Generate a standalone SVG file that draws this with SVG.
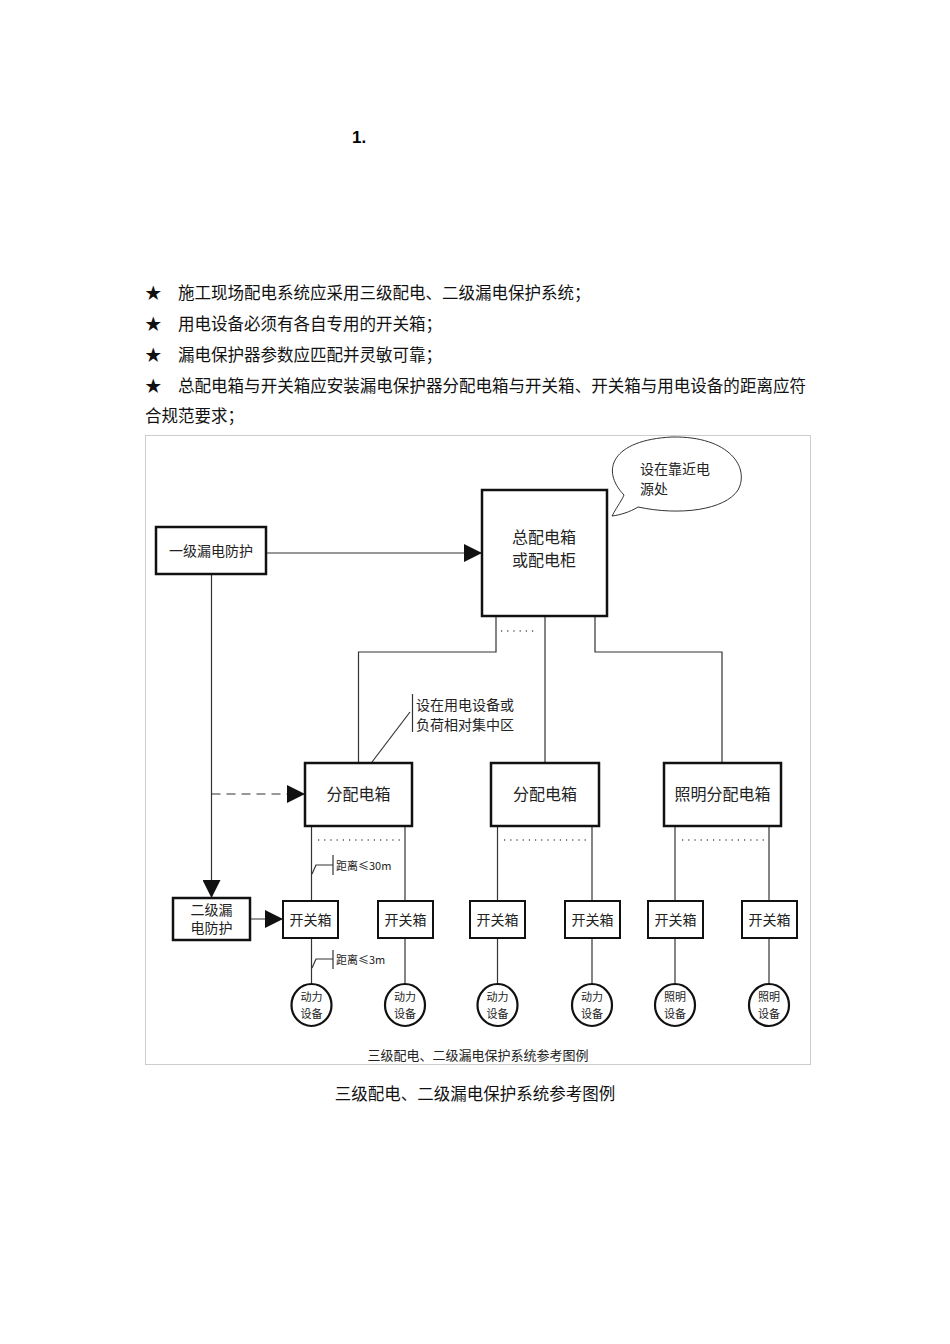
<svg xmlns="http://www.w3.org/2000/svg" width="950" height="1344" viewBox="0 0 950 1344">
<style>
.t{font-family:"Liberation Serif","Noto Sans CJK SC",serif;font-size:16.5px;fill:#111}
.d{font-family:"Noto Sans CJK SC",sans-serif;fill:#222}
.b{fill:#fff;stroke:#111;stroke-width:2.5}
.sb{fill:#fff;stroke:#111;stroke-width:2}
.l{fill:none;stroke:#333;stroke-width:1.2}
.c{fill:#fff;stroke:#111;stroke-width:2.2}
</style>
<defs>
<marker id="ah" viewBox="0 0 10 10" refX="10" refY="5" markerWidth="10" markerHeight="10" markerUnits="userSpaceOnUse" orient="auto"><path d="M0,0 L10,5 L0,10 z" fill="#111"/></marker>
<marker id="ahb" viewBox="0 0 10 10" refX="10" refY="5" markerWidth="18" markerHeight="18" markerUnits="userSpaceOnUse" orient="auto"><path d="M0,0 L10,5 L0,10 z" fill="#111"/></marker>
</defs>
<rect width="950" height="1344" fill="#fff"/>
<text x="352" y="143" style="font-family:'Liberation Sans',sans-serif;font-weight:bold;font-size:17px">1.</text>
<g class="t">
<text x="145" y="299">★</text><text x="178" y="299">施工现场配电系统应采用三级配电、二级漏电保护系统；</text>
<text x="145" y="330">★</text><text x="178" y="330">用电设备必须有各自专用的开关箱；</text>
<text x="145" y="361">★</text><text x="178" y="361">漏电保护器参数应匹配并灵敏可靠；</text>
<text x="145" y="392">★</text><text x="178" y="392" textLength="628" lengthAdjust="spacingAndGlyphs">总配电箱与开关箱应安装漏电保护器分配电箱与开关箱、开关箱与用电设备的距离应符</text>
<text x="145" y="422">合规范要求；</text>
<text x="475" y="1100" text-anchor="middle">三级配电、二级漏电保护系统参考图例</text>
</g>
<rect x="145.5" y="435.5" width="665" height="629" fill="none" stroke="#ccc" stroke-width="1"/>
<g id="connectors">
<line class="l" x1="267" y1="553" x2="482" y2="553" marker-end="url(#ahb)"/>
<line class="l" x1="211.5" y1="575" x2="211.5" y2="898" marker-end="url(#ahb)"/>
<line class="l" x1="211.5" y1="794" x2="305" y2="794" stroke-dasharray="9,6" marker-end="url(#ahb)"/>
<line class="l" x1="250" y1="919" x2="283" y2="919" marker-end="url(#ahb)"/>
<polyline class="l" points="496,616 496,652 358.5,652 358.5,763"/>
<line class="l" x1="545" y1="616" x2="545" y2="763"/>
<polyline class="l" points="595,616 595,652 722,652 722,763"/>
<line x1="501" y1="631" x2="536" y2="631" stroke="#555" stroke-width="1.5" stroke-dasharray="1.2,5"/>
<line class="l" x1="372" y1="762" x2="410" y2="712"/>
<line class="l" x1="412.5" y1="694" x2="412.5" y2="732"/>
<g class="l">
<line x1="311.5" y1="826" x2="311.5" y2="901"/><line x1="405" y1="826" x2="405" y2="901"/>
<line x1="497.5" y1="826" x2="497.5" y2="901"/><line x1="592" y1="826" x2="592" y2="901"/>
<line x1="675" y1="826" x2="675" y2="901"/><line x1="769" y1="826" x2="769" y2="901"/>
<line x1="311.5" y1="938" x2="311.5" y2="984"/><line x1="405" y1="938" x2="405" y2="984"/>
<line x1="497.5" y1="938" x2="497.5" y2="984"/><line x1="592" y1="938" x2="592" y2="984"/>
<line x1="675" y1="938" x2="675" y2="984"/><line x1="769" y1="938" x2="769" y2="984"/>
<polyline points="312,874 316,865 333,865"/><line x1="333" y1="855" x2="333" y2="875"/>
<polyline points="312,968 316,959 333,959"/><line x1="333" y1="950" x2="333" y2="969"/>
</g>
<g stroke="#555" stroke-width="1.5" stroke-dasharray="1.2,5">
<line x1="318" y1="840" x2="400" y2="840"/><line x1="504" y1="840" x2="588" y2="840"/><line x1="682" y1="840" x2="764" y2="840"/>
</g>
</g>
<g id="n1"><rect class="b" x="156" y="527" width="110" height="47"/><text class="d" x="211" y="556" font-size="14" text-anchor="middle">一级漏电防护</text></g>
<g id="main"><rect class="b" x="482" y="490" width="125" height="126"/><text class="d" x="544" y="543" font-size="16" text-anchor="middle">总配电箱</text><text class="d" x="544" y="566" font-size="16" text-anchor="middle">或配电柜</text></g>
<g id="bubble"><path d="M612,516 C618,505 622,500 624,495 C600,470 612,440 672,437 C730,436 750,468 738,490 C725,510 680,516 638,507 C630,512 620,515 612,516 Z" fill="#fff" stroke="#333" stroke-width="1"/><text class="d" x="640" y="474" font-size="14">设在靠近电</text><text class="d" x="640" y="494" font-size="14">源处</text></g>
<g id="note"><text class="d" x="416" y="710" font-size="14">设在用电设备或</text><text class="d" x="416" y="730" font-size="14">负荷相对集中区</text></g>
<g id="f1"><rect class="b" x="305" y="763" width="107" height="63"/><text class="d" x="358.5" y="800" font-size="16" text-anchor="middle">分配电箱</text></g>
<g id="f2"><rect class="b" x="491" y="763" width="108" height="63"/><text class="d" x="545" y="800" font-size="16" text-anchor="middle">分配电箱</text></g>
<g id="f3"><rect class="b" x="664" y="763" width="117" height="63"/><text class="d" x="722.5" y="800" font-size="16" text-anchor="middle">照明分配电箱</text></g>
<g id="n2"><rect class="b" x="173" y="898" width="77" height="42"/><text class="d" x="211.5" y="915" font-size="14" text-anchor="middle">二级漏</text><text class="d" x="211.5" y="933" font-size="14" text-anchor="middle">电防护</text></g>
<g class="d" font-size="11"><text x="336" y="870">距离≤30m</text><text x="336" y="964">距离≤3m</text></g>
<g id="k1"><rect class="sb" x="283" y="901" width="55" height="37"/><text class="d" x="310.5" y="925" font-size="14" text-anchor="middle">开关箱</text></g>
<g id="k2"><rect class="sb" x="378" y="901" width="55" height="37"/><text class="d" x="405.5" y="925" font-size="14" text-anchor="middle">开关箱</text></g>
<g id="k3"><rect class="sb" x="470" y="901" width="55" height="37"/><text class="d" x="497.5" y="925" font-size="14" text-anchor="middle">开关箱</text></g>
<g id="k4"><rect class="sb" x="565" y="901" width="55" height="37"/><text class="d" x="592.5" y="925" font-size="14" text-anchor="middle">开关箱</text></g>
<g id="k5"><rect class="sb" x="648" y="901" width="55" height="37"/><text class="d" x="675.5" y="925" font-size="14" text-anchor="middle">开关箱</text></g>
<g id="k6"><rect class="sb" x="742" y="901" width="55" height="37"/><text class="d" x="769.5" y="925" font-size="14" text-anchor="middle">开关箱</text></g>
<g class="d" font-size="11" text-anchor="middle">
<g id="e1"><ellipse class="c" cx="311.5" cy="1005" rx="20" ry="21"/><text x="311.5" y="1001">动力</text><text x="311.5" y="1018">设备</text></g>
<g id="e2"><ellipse class="c" cx="405" cy="1005" rx="20" ry="21"/><text x="405" y="1001">动力</text><text x="405" y="1018">设备</text></g>
<g id="e3"><ellipse class="c" cx="497.5" cy="1005" rx="20" ry="21"/><text x="497.5" y="1001">动力</text><text x="497.5" y="1018">设备</text></g>
<g id="e4"><ellipse class="c" cx="592" cy="1005" rx="20" ry="21"/><text x="592" y="1001">动力</text><text x="592" y="1018">设备</text></g>
<g id="e5"><ellipse class="c" cx="675" cy="1005" rx="20" ry="21"/><text x="675" y="1001">照明</text><text x="675" y="1018">设备</text></g>
<g id="e6"><ellipse class="c" cx="769" cy="1005" rx="20" ry="21"/><text x="769" y="1001">照明</text><text x="769" y="1018">设备</text></g>
</g>
<text class="d" x="478" y="1060" font-size="13" text-anchor="middle" fill="#555">三级配电、二级漏电保护系统参考图例</text>
</svg>
